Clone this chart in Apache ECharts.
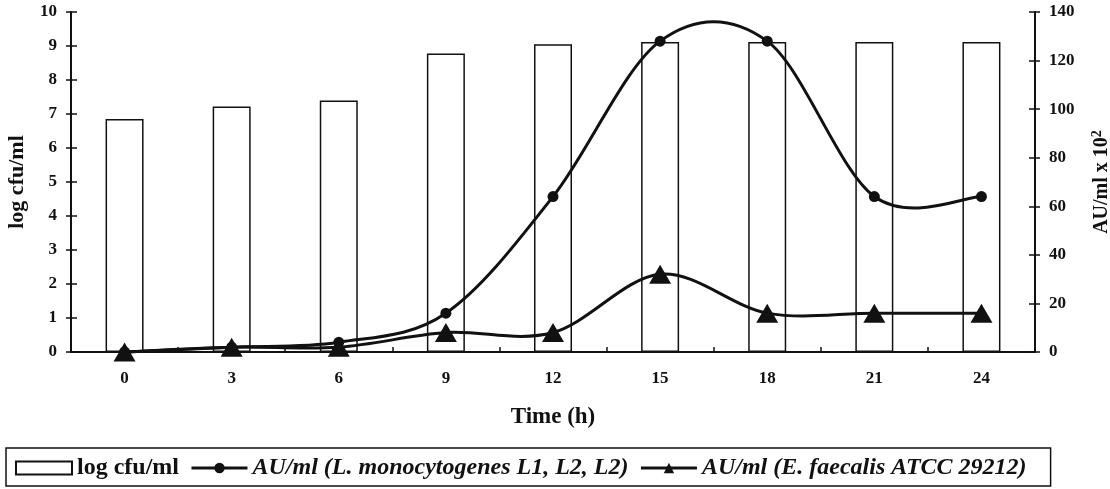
<!DOCTYPE html>
<html>
<head>
<meta charset="utf-8">
<script src="https://cdn.jsdelivr.net/npm/echarts@6/dist/echarts.min.js"></script>
<style>
  html, body { margin: 0; padding: 0; background: #fff; }
  #c1 { width: 1110px; height: 489px; }
</style>
</head>
<body>
<div id="c1"></div>
<script>
// time points (h)
var hours = ['0', '3', '6', '9', '12', '15', '18', '21', '24']
// log cfu/ml (bars, left axis)
var logCfu = [6.85, 7.22, 7.4, 8.78, 9.05, 9.12, 9.12, 9.12, 9.12]
// AU/ml x 10^2 (right axis)
var auListeria = [0, 2, 4, 16, 64, 128, 128, 64, 64]
var auFaecalis = [0, 2, 2, 8, 8, 32, 16, 16, 16]

var serif = 'Liberation Serif'
var black = '#111'
var nameL = 'AU/ml (L. monocytogenes L1, L2, L2)'
var nameE = 'AU/ml (E. faecalis ATCC 29212)'

var chart = echarts.init(document.getElementById('c1'))

// extra axis copies only to draw the inner half of the crossing ticks
function tickIn(pos, min, max, interval) {
    return {
        type: 'value', position: pos, min: min, max: max, interval: interval,
        axisLine: {show: false}, splitLine: {show: false}, axisLabel: {show: false},
        axisTick: {show: true, inside: true, length: 6, lineStyle: {color: black, width: 1.5}}
    }
}

// spreadsheet-style smoothed curve (catmull-rom through the data values)
function curve(vals) {
    return {
        type: 'custom',
        yAxisIndex: 1,
        silent: true,
        z: 2,
        data: vals.map(function (v, i) { return [i, v] }),
        encode: {x: 0, y: 1},
        renderItem: function (params, api) {
            var i = params.dataIndex
            var n = vals.length
            if (i >= n - 1) return null
            var p = function (j) {
                j = Math.max(0, Math.min(n - 1, j))
                return api.coord([j, vals[j]])
            }
            var p0 = p(i - 1), p1 = p(i), p2 = p(i + 1), p3 = p(i + 2)
            return {
                type: 'bezierCurve',
                shape: {
                    x1: p1[0], y1: p1[1], x2: p2[0], y2: p2[1],
                    cpx1: p1[0] + (p2[0] - p0[0]) / 6, cpy1: p1[1] + (p2[1] - p0[1]) / 6,
                    cpx2: p2[0] - (p3[0] - p1[0]) / 6, cpy2: p2[1] - (p3[1] - p1[1]) / 6
                },
                style: {stroke: black, lineWidth: 3, fill: null}
            }
        }
    }
}

chart.setOption({
    backgroundColor: '#fff',
    animation: false,
    grid: {left: 71, right: 75, top: 12, bottom: 137, outerBoundsMode: 'none'},
    xAxis: [{
        type: 'category',
        data: hours,
        boundaryGap: true,
        axisLine: {lineStyle: {color: black, width: 2}},
        axisTick: {length: 6, lineStyle: {color: black, width: 1.5}},
        axisLabel: {color: black, fontFamily: serif, fontWeight: 'bold', fontSize: 17, margin: 18},
        name: 'Time (h)',
        nameLocation: 'middle',
        nameGap: 54,
        nameTextStyle: {color: black, fontFamily: serif, fontWeight: 'bold', fontSize: 23}
    }, {
        type: 'category', data: hours, position: 'bottom', boundaryGap: true,
        axisLine: {show: false}, axisLabel: {show: false},
        axisTick: {show: true, inside: true, length: 5, lineStyle: {color: black, width: 1.5}}
    }],
    yAxis: [{
        type: 'value',
        position: 'left',
        min: 0, max: 10, interval: 1,
        axisLine: {show: true, lineStyle: {color: black, width: 2}},
        axisTick: {show: true, length: 5, lineStyle: {color: black, width: 1.5}},
        splitLine: {show: false},
        axisLabel: {color: black, fontFamily: serif, fontWeight: 'bold', fontSize: 17, margin: 14},
        name: 'log cfu/ml',
        nameLocation: 'middle',
        nameGap: 43,
        nameTextStyle: {color: black, fontFamily: serif, fontWeight: 'bold', fontSize: 22}
    }, {
        type: 'value',
        position: 'right',
        min: 0, max: 140, interval: 20,
        axisLine: {show: true, lineStyle: {color: black, width: 2}},
        axisTick: {show: true, length: 5, lineStyle: {color: black, width: 1.5}},
        splitLine: {show: false},
        axisLabel: {color: black, fontFamily: serif, fontWeight: 'bold', fontSize: 17, margin: 14},
        name: 'AU/ml x 10{sup|2}',
        nameLocation: 'middle',
        nameGap: 55,
        nameTextStyle: {
            color: black, fontFamily: serif, fontWeight: 'bold', fontSize: 20,
            rich: {sup: {color: black, fontFamily: serif, fontWeight: 'bold', fontSize: 14, verticalAlign: 'top', padding: [0, 0, 9, 0]}}
        }
    },
        tickIn('left', 0, 10, 1),
        tickIn('right', 0, 140, 20)
    ],
    legend: {
        top: 448,
        left: 6,
        padding: [8, 24, 6, 9],
        borderColor: black,
        borderWidth: 1.5,
        borderRadius: 0,
        itemGap: 11,
        itemWidth: 56,
        itemHeight: 13,
        textStyle: {color: black, fontFamily: serif, fontWeight: 'bold', fontSize: 24},
        data: [
            {name: 'log cfu/ml', icon: 'rect'},
            {name: nameL, textStyle: {fontStyle: 'italic'}, lineStyle: {color: black, width: 3, opacity: 1}},
            {name: nameE, textStyle: {fontStyle: 'italic'}, lineStyle: {color: black, width: 3, opacity: 1}}
        ]
    },
    series: [{
        name: 'log cfu/ml',
        type: 'bar',
        data: logCfu,
        barWidth: 38,
        itemStyle: {color: '#fff', borderColor: black, borderWidth: 1.5},
        z: 1
    },
        curve(auListeria),
        curve(auFaecalis),
    {
        name: nameL,
        type: 'line',
        yAxisIndex: 1,
        data: auListeria,
        symbol: 'circle',
        symbolSize: 11,
        itemStyle: {color: black},
        lineStyle: {color: black, width: 3, opacity: 0},
        z: 3
    }, {
        name: nameE,
        type: 'line',
        yAxisIndex: 1,
        data: auFaecalis,
        symbol: 'triangle',
        symbolSize: [22, 19],
        itemStyle: {color: black},
        lineStyle: {color: black, width: 3, opacity: 0},
        z: 3
    }]
})
</script>
</body>
</html>
